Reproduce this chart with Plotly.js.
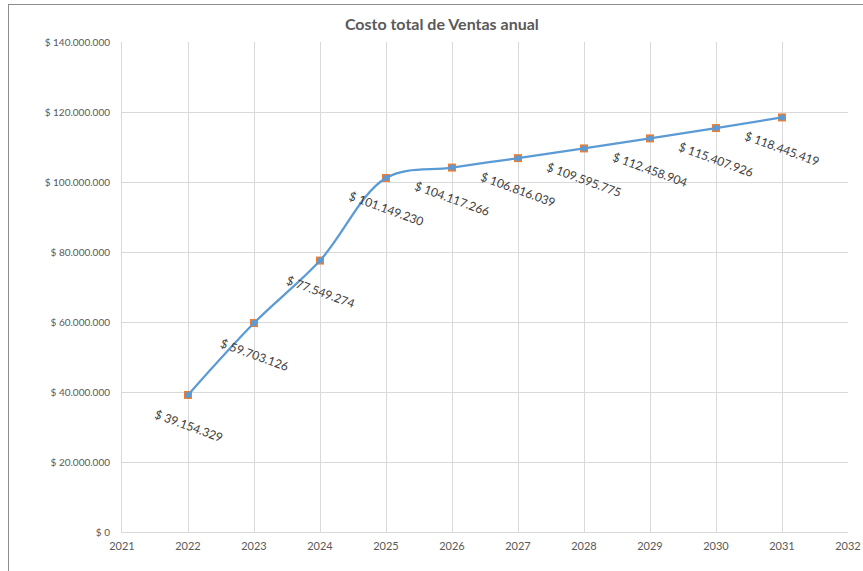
<!DOCTYPE html>
<html>
<head>
<meta charset="utf-8">
<script src="https://cdn.plot.ly/plotly-3.0.1.min.js"></script>
<style>
html,body{margin:0;padding:0;background:#fff;}
#wrap{position:relative;width:863px;height:571px;overflow:hidden;}
#chart{position:absolute;left:0;top:0;width:863px;height:571px;}
#frame{position:absolute;left:8px;top:4px;width:900px;height:600px;border-left:1px solid #8c8c8c;border-top:1px solid #8c8c8c;pointer-events:none;}
</style>
</head>
<body>
<div id="wrap"><div id="chart"></div><div id="frame"></div></div>
<script>
var years = [2022, 2023, 2024, 2025, 2026, 2027, 2028, 2029, 2030, 2031];
var costs = [39154329, 59703126, 77549274, 101149230, 104117266, 106816039, 109595775, 112458904, 115407926, 118445419];
var yTickVals = [0, 20000000, 40000000, 60000000, 80000000, 100000000, 120000000, 140000000];
var xTickVals = [2021, 2022, 2023, 2024, 2025, 2026, 2027, 2028, 2029, 2030, 2031, 2032];
var chartTitle = "Costo total de Ventas anual";

function fmt(v){
  var s = Math.round(v).toString().replace(/\B(?=(\d{3})+(?!\d))/g, ".");
  return "$ " + s;
}

var FONT = "Lato, 'Open Sans', 'DejaVu Sans', sans-serif";

var traces = [
  {
    x: years, y: costs, type: "scatter", mode: "markers",
    marker: {symbol: "square", size: 8, color: "#ED7D31"},
    hoverinfo: "skip", showlegend: false
  },
  {
    x: years, y: costs, type: "scatter", mode: "lines+markers",
    line: {color: "#5B9BD5", width: 2.25, shape: "spline", smoothing: 1},
    marker: {symbol: "circle", size: 6, color: "#5B9BD5"},
    hoverinfo: "skip", showlegend: false
  }
];

var annotations = years.map(function(yr, i){
  return {
    x: yr, y: costs[i], xref: "x", yref: "y",
    text: fmt(costs[i]), showarrow: false,
    textangle: 20, yshift: -31,
    font: {family: FONT, size: 12, color: "#404040"}
  };
});

var layout = {
  width: 863, height: 571,
  margin: {l: 122, r: 15, t: 42, b: 39},
  paper_bgcolor: "#ffffff", plot_bgcolor: "#ffffff",
  title: {text: "<b>" + chartTitle + "</b>", x: 0.512, xanchor: "center", y: 0.958, yanchor: "middle",
          font: {family: FONT, size: 16, color: "#595959"}},
  xaxis: {
    range: [2021, 2032], tickvals: xTickVals, ticktext: xTickVals.map(String),
    showgrid: true, gridcolor: "#D9D9D9", gridwidth: 1,
    showline: true, linecolor: "#D9D9D9", linewidth: 1,
    zeroline: false, ticks: "outside", ticklen: 4, tickcolor: "rgba(0,0,0,0)",
    tickfont: {family: FONT, size: 11, color: "#595959"}, fixedrange: true
  },
  yaxis: {
    range: [0, 140000000], tickvals: yTickVals, ticktext: yTickVals.map(fmt),
    showgrid: true, gridcolor: "#D9D9D9", gridwidth: 1,
    showline: true, linecolor: "#D9D9D9", linewidth: 1,
    zeroline: false, ticks: "outside", ticklen: 9, tickcolor: "rgba(0,0,0,0)",
    tickfont: {family: FONT, size: 10, color: "#595959"}, fixedrange: true
  },
  annotations: annotations
};

Plotly.newPlot("chart", traces, layout, {staticPlot: true, displayModeBar: false});
</script>
</body>
</html>
